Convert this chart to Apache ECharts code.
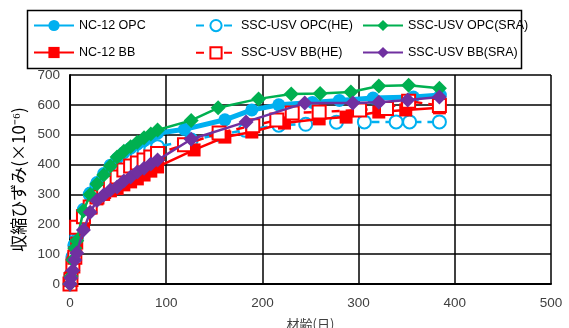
<!DOCTYPE html>
<html><head><meta charset="utf-8">
<script src="https://cdn.jsdelivr.net/npm/echarts@6/dist/echarts.min.js"></script>
<style>html,body{margin:0;padding:0;background:#fff}#c{width:569px;height:328px}</style>
</head><body><div id="c"></div>
<script>
const xTicks = [0,100,200,300,400,500];
const yTicks = [0,100,200,300,400,500,600,700];

const nc12opcDays = [0,1,3,5,7,14,21,28,35,42,49,56,63,70,77,84,91,119,161,189,217,252,280,315,357,385];
const nc12opcVals = [0,30,90,130,150,250,305,340,370,398,420,440,455,468,480,492,505,518,550,583,600,608,615,623,626,633];

const nc12bbDays = [0,1,3,5,7,14,21,28,35,42,49,56,63,70,77,84,91,129,161,189,223,259,287,321,349,384];
const nc12bbVals = [0,20,70,105,137,205,255,285,300,312,320,332,342,352,365,378,392,449,492,509,539,553,559,576,583,590];

const heOpcDays = [0,1,3,5,7,14,21,28,35,42,49,56,63,70,77,84,91,126,154,182,217,245,277,306,339,353,384];
const heOpcVals = [0,30,90,130,160,240,300,330,352,372,390,405,420,430,440,450,460,482,500,515,532,535,542,543,543,543,543];

const heBbDays = [0,1,3,5,7,14,21,28,35,42,49,56,63,70,77,84,91,119,155,190,215,231,259,301,329,352,384];
const heBbVals = [0,15,60,90,190,225,258,291,310,340,358,382,395,405,415,425,437,466,506,530,549,573,576,583,588,612,598];

const sraOpcDays = [0,1,3,5,7,14,21,28,35,42,49,56,63,70,77,84,91,126,154,196,230,260,292,321,352,384];
const sraOpcVals = [0,25,80,120,145,245,300,335,365,395,425,445,460,475,490,502,516,548,590,620,636,638,643,663,666,656];

const sraBbDays = [0,1,3,5,7,14,21,28,35,42,49,56,63,70,77,84,91,126,183,244,294,321,351,384];
const sraBbVals = [0,20,45,80,104,181,240,280,298,315,325,345,358,375,388,402,415,485,543,606,606,609,616,626];

function zip(d,v){return d.map((x,i)=>[x,v[i]]);}

const chart = echarts.init(document.getElementById('c'));
const cyan = '#00B0F0', red = '#FF0000', green = '#00B050', purple = '#7030A0';
const lblFont = {fontFamily:'Liberation Sans', fontSize:13.5, color:'#404040'};

function legendCol(left, names){
  return {
    left: left, top: 19, orient:'vertical', itemGap: 14, padding:0,
    itemWidth: 40, itemHeight: 14, data: names,
    textStyle: {fontFamily:'Liberation Sans', fontSize:12.5, color:'#000'},
    selectedMode:false
  };
}

chart.setOption({
  animation:false,
  backgroundColor:'#fff',
  graphic:[{type:'rect', shape:{x:27.5,y:10.5,width:494,height:58}, style:{fill:'none', stroke:'#000', lineWidth:1.5}, z:-1}],
  legend:[
    legendCol(33, ['NC-12 OPC','NC-12 BB']),
    legendCol(195, ['SSC-USV OPC(HE)','SSC-USV BB(HE)']),
    legendCol(362, ['SSC-USV OPC(SRA)','SSC-USV BB(SRA)'])
  ],
  grid:{left:70, right:18, top:75, bottom:44, outerBoundsMode:'none', containLabel:false},
  xAxis:{
    type:'value', min:0, max:500, interval:100,
    name:'材齢(日)', nameLocation:'middle', nameGap:34,
    nameTextStyle:{fontFamily:'Noto Sans CJK JP', fontSize:13, color:'#404040'},
    axisLine:{show:true, lineStyle:{color:'#000', width:2}},
    axisTick:{show:false},
    axisLabel:{...lblFont, margin:12},
    splitLine:{show:true, lineStyle:{color:'#000', width:1.5}}
  },
  yAxis:{
    type:'value', min:0, max:700, interval:100,
    name:'収縮ひずみ(×10⁻⁶)', nameLocation:'middle', nameGap:43, nameRotate:90,
    nameTextStyle:{fontFamily:'Noto Sans CJK JP', fontSize:17, color:'#000'},
    axisLine:{show:true, lineStyle:{color:'#000', width:2}},
    axisTick:{show:false},
    axisLabel:{...lblFont, margin:10},
    splitLine:{show:true, lineStyle:{color:'#000', width:1.5}}
  },
  series:[
    {name:'NC-12 OPC', type:'line', data:zip(nc12opcDays,nc12opcVals), symbol:'circle', symbolSize:13,
     lineStyle:{color:cyan, width:5}, itemStyle:{color:cyan}, z:2},
    {name:'NC-12 BB', type:'line', data:zip(nc12bbDays,nc12bbVals), symbol:'rect', symbolSize:13,
     lineStyle:{color:red, width:2.5}, itemStyle:{color:red}, z:3},
    {name:'SSC-USV OPC(HE)', type:'line', data:zip(heOpcDays,heOpcVals), symbol:'circle', symbolSize:13,
     lineStyle:{color:cyan, width:2.5, type:[8,6]}, itemStyle:{color:'#fff', borderColor:cyan, borderWidth:2}, z:1},
    {name:'SSC-USV BB(HE)', type:'line', data:zip(heBbDays,heBbVals), symbol:'rect', symbolSize:13,
     lineStyle:{color:red, width:2.5, type:[8,6]}, itemStyle:{color:'#fff', borderColor:red, borderWidth:2}, z:4},
    {name:'SSC-USV OPC(SRA)', type:'line', data:zip(sraOpcDays,sraOpcVals), symbol:'diamond', symbolSize:15,
     lineStyle:{color:green, width:2.5}, itemStyle:{color:green}, z:5},
    {name:'SSC-USV BB(SRA)', type:'line', data:zip(sraBbDays,sraBbVals), symbol:'diamond', symbolSize:15,
     lineStyle:{color:purple, width:2.5}, itemStyle:{color:purple}, z:6}
  ]
});
</script></body></html>
